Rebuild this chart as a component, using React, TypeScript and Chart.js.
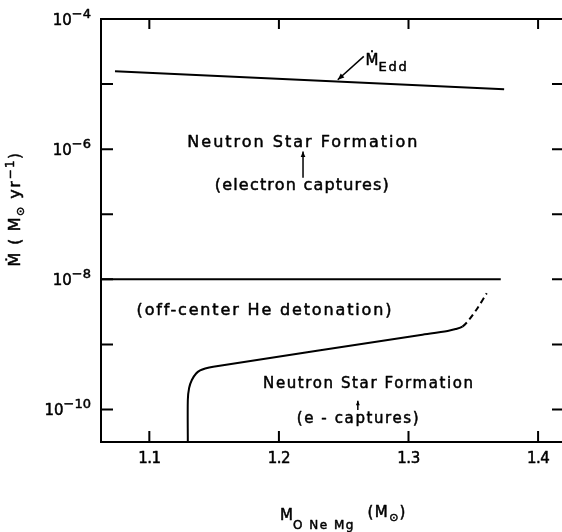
import React, { useEffect, useRef } from "react";
import { Chart, registerables } from "chart.js";

Chart.register(...registerables);

// ---- data ----
const xTickValues = [1.1, 1.2, 1.3, 1.4];
const xTickLabels = ["1.1", "1.2", "1.3", "1.4"];
const yTickValues = [1e-10, 1e-9, 1e-8, 1e-7, 1e-6, 1e-5];
const yLabelValues = [1e-10, 1e-8, 1e-6, 1e-4];
const yLabelExps = ["−10", "−8", "−6", "−4"];

const eddX = [1.0735, 1.3738];
const eddY = [1.58e-5, 8.3e-6];

const detX = [1.0627, 1.3712];
const detY = [1e-8, 1e-8];

// solid part of the lower boundary
const lowX = [1.1297, 1.1297, 1.1307, 1.1328, 1.1361, 1.1392, 1.1431, 1.1493, 1.3094, 1.3302, 1.3364, 1.3416];
const lowY = [3.1623e-11, 1.4e-10, 2.14e-10, 2.84e-10, 3.57e-10, 3.98e-10, 4.27e-10, 4.55e-10, 1.396e-9, 1.61e-9, 1.72e-9, 1.875e-9];

// dashed continuation (starts where the solid part ends)
const dashX = [1.3467, 1.3532, 1.3604];
const dashY = [2.38e-9, 3.6e-9, 6.12e-9];

const X_MIN = 1.0627;
const X_MAX = 1.42;
const Y_MIN = 3.1623e-11;
const Y_MAX = 1e-4;

const FAMILY = '"DejaVu Sans", sans-serif';

type Part = { t: string; size: number; dy?: number; ls?: number };

function drawParts(ctx: CanvasRenderingContext2D, parts: Part[], x: number, y: number, align: "left" | "center" | "right") {
  const c: any = ctx;
  const widths = parts.map((p) => {
    ctx.font = `${p.size}px ${FAMILY}`;
    c.letterSpacing = `${p.ls ?? 0}px`;
    return ctx.measureText(p.t).width;
  });
  const total = widths.reduce((a, b) => a + b, 0);
  let cx = align === "left" ? x : align === "center" ? x - total / 2 : x - total;
  ctx.textAlign = "left";
  ctx.textBaseline = "alphabetic";
  ctx.lineWidth = 0.5;
  ctx.lineJoin = "round";
  parts.forEach((p, i) => {
    ctx.font = `${p.size}px ${FAMILY}`;
    c.letterSpacing = `${p.ls ?? 0}px`;
    ctx.fillText(p.t, cx, y + (p.dy ?? 0));
    ctx.strokeText(p.t, cx, y + (p.dy ?? 0));
    cx += widths[i];
  });
  c.letterSpacing = "0px";
}

function arrow(ctx: CanvasRenderingContext2D, x1: number, y1: number, x2: number, y2: number, head: number) {
  ctx.lineWidth = 1.5;
  ctx.beginPath();
  ctx.moveTo(x1, y1);
  ctx.lineTo(x2, y2);
  ctx.stroke();
  const a = Math.atan2(y2 - y1, x2 - x1);
  ctx.beginPath();
  ctx.moveTo(x2, y2);
  ctx.lineTo(x2 - head * Math.cos(a - 0.4), y2 - head * Math.sin(a - 0.4));
  ctx.lineTo(x2 - head * Math.cos(a + 0.4), y2 - head * Math.sin(a + 0.4));
  ctx.closePath();
  ctx.fill();
}

const decorPlugin = {
  id: "decor",
  afterDatasetsDraw(chart: any) {
    const ctx: CanvasRenderingContext2D = chart.ctx;
    const xs = chart.scales.x;
    const ys = chart.scales.y;
    const { left, right, top, bottom } = chart.chartArea;
    const X = (v: number) => xs.getPixelForValue(v);
    const Y = (v: number) => ys.getPixelForValue(v);
    ctx.save();
    ctx.strokeStyle = "#000";
    ctx.fillStyle = "#000";
    ctx.lineWidth = 2;
    // frame
    ctx.strokeRect(left, top, right - left, bottom - top);
    // x ticks
    xTickValues.forEach((v) => {
      const px = X(v);
      ctx.beginPath();
      ctx.moveTo(px, bottom);
      ctx.lineTo(px, bottom - 11);
      ctx.moveTo(px, top);
      ctx.lineTo(px, top + 10);
      ctx.stroke();
    });
    // y ticks
    yTickValues.forEach((v) => {
      const py = Y(v);
      ctx.beginPath();
      ctx.moveTo(left, py);
      ctx.lineTo(left + 12, py);
      ctx.moveTo(right, py);
      ctx.lineTo(right - 12, py);
      ctx.stroke();
    });
    // x tick labels
    xTickValues.forEach((v, i) => {
      drawParts(ctx, [{ t: xTickLabels[i], size: 15, ls: -0.5 }], X(v), bottom + 21, "center");
    });
    // y tick labels
    yLabelValues.forEach((v, i) => {
      const py = Y(v);
      drawParts(ctx, [{ t: "10", size: 15 }, { t: yLabelExps[i], size: 13, dy: -7 }], left - 10, py + 6, "right");
    });
    // axis titles
    drawParts(
      ctx,
      [
        { t: "M", size: 15 },
        { t: "O Ne Mg", size: 12, dy: 9, ls: 1.5 },
        { t: "  (M", size: 15, dy: -3, ls: 1.5 },
        { t: "⊙", size: 11, dy: 1, ls: 1 },
        { t: ")", size: 15, dy: -3 },
      ],
      280,
      520,
      "left"
    );
    ctx.save();
    ctx.translate(14, 209);
    ctx.rotate(-Math.PI / 2);
    drawParts(
      ctx,
      [
        { t: "Ṁ", size: 16, ls: 1.5 },
        { t: " ( ", size: 15, ls: 1.5 },
        { t: "M", size: 16, ls: 1.5 },
        { t: "⊙", size: 11, dy: 4, ls: 1.5 },
        { t: " yr", size: 16, ls: 1.5 },
        { t: "−1", size: 12, dy: -6, ls: 1.5 },
        { t: ")", size: 15, ls: 1.5 },
      ],
      0,
      6,
      "center"
    );
    ctx.restore();

    // annotations
    drawParts(ctx, [{ t: "Neutron Star Formation", size: 16, ls: 2 }], X(1.2189), Y(Math.pow(10, -5.964)), "center");
    arrow(ctx, X(1.2186), Y(Math.pow(10, -6.44)), X(1.2186), Y(Math.pow(10, -6.036)), 6);
    drawParts(ctx, [{ t: "(electron captures)", size: 16, ls: 1.2 }], X(1.2181), Y(Math.pow(10, -6.625)), "center");

    drawParts(ctx, [{ t: "Ṁ", size: 15 }, { t: "Edd", size: 13, dy: 6, ls: 1.8 }], X(1.2668), Y(Math.pow(10, -4.703)), "left");
    arrow(ctx, X(1.2655), Y(Math.pow(10, -4.575)), X(1.2454), Y(Math.pow(10, -4.933)), 7);

    drawParts(ctx, [{ t: "(off-center He detonation)", size: 16, ls: 1.85 }], X(1.1892), Y(Math.pow(10, -8.547)), "center");

    drawParts(ctx, [{ t: "Neutron Star Formation", size: 15, ls: 1.6 }], X(1.2694), Y(Math.pow(10, -9.674)), "center");
    arrow(ctx, X(1.2609), Y(Math.pow(10, -10.008)), X(1.2609), Y(Math.pow(10, -9.865)), 5);
    drawParts(ctx, [{ t: "(e - captures)", size: 15, ls: 1.6 }], X(1.2614), Y(Math.pow(10, -10.213)), "center");
    ctx.restore();
  },
};

const pts = (xs: number[], ys: number[]) => xs.map((x, i) => ({ x, y: ys[i] }));

export default function App() {
  const ref = useRef<HTMLCanvasElement | null>(null);
  useEffect(() => {
    if (!ref.current) return;
    const line = { borderColor: "#000", borderWidth: 2, pointRadius: 0, fill: false, tension: 0 };
    const solidCount = lowX.length;
    const chart = new Chart(ref.current, {
      type: "line",
      data: {
        datasets: [
          { ...line, label: "Edd", data: pts(eddX, eddY) },
          { ...line, label: "det", data: pts(detX, detY) },
          {
            ...line,
            label: "low",
            data: pts(lowX.concat(dashX), lowY.concat(dashY)),
            tension: 0.3,
            segment: {
              borderDash: (c: any) => (c.p0DataIndex >= solidCount - 1 ? [6, 4] : undefined),
            },
          },
        ],
      },
      options: {
        animation: false,
        responsive: false,
        maintainAspectRatio: false,
        devicePixelRatio: 1,
        parsing: false as any,
        layout: { padding: { left: 101, top: 19, right: 6, bottom: 90 } },
        plugins: { legend: { display: false }, tooltip: { enabled: false } },
        scales: {
          x: { type: "linear", min: X_MIN, max: X_MAX, display: false },
          y: { type: "logarithmic", min: Y_MIN, max: Y_MAX, display: false },
        },
      },
      plugins: [decorPlugin],
    });
    return () => chart.destroy();
  }, []);
  return (
    <div style={{ position: "absolute", left: 0, top: 0, width: 562, height: 532, overflow: "hidden", background: "#fff" }}>
      <canvas ref={ref} width={570} height={532} style={{ width: 570, height: 532, display: "block" }} />
    </div>
  );
}
